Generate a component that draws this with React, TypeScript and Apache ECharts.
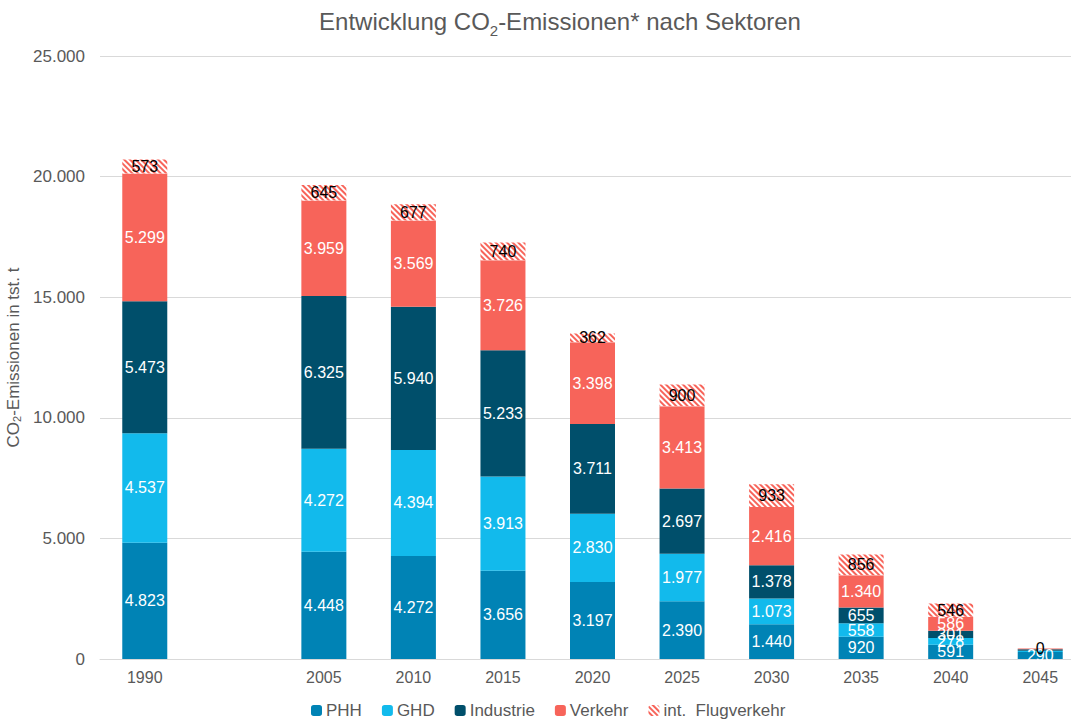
import React, { useEffect, useRef } from "react";
import * as echarts from "echarts";

const categories = ["1990", "", "2005", "2010", "2015", "2020", "2025", "2030", "2035", "2040", "2045"];
const phh = [4823, null, 4448, 4272, 3656, 3197, 2390, 1440, 920, 591, 290];
const ghd = [4537, null, 4272, 4394, 3913, 2830, 1977, 1073, 558, 278, 50];
const industrie = [5473, null, 6325, 5940, 5233, 3711, 2697, 1378, 655, 301, 60];
const verkehr = [5299, null, 3959, 3569, 3726, 3398, 3413, 2416, 1340, 586, 40];
const flug = [573, null, 645, 677, 740, 362, 900, 933, 856, 546, 0];
const yTicks = [0, 5000, 10000, 15000, 20000, 25000];

const FONT = "Liberation Sans, Arial, sans-serif";
const GREY = "#595959";

const fmt = (v: number) => String(v).replace(/\B(?=(\d{3})+(?!\d))/g, ".");

function makeData(arr: (number | null)[], hideLast: boolean) {
  return arr.map((v, i) =>
    hideLast && i === arr.length - 1 ? { value: v, label: { show: false } } : v
  );
}

export default function App() {
  const ref = useRef<HTMLDivElement>(null);
  useEffect(() => {
    if (!ref.current) return;
    const chart = echarts.init(ref.current, null, { renderer: "svg" });
    const labelWhite = {
      show: true,
      position: "inside",
      color: "#ffffff",
      fontSize: 16,
      fontFamily: FONT,
      formatter: (p: any) => (p.value == null ? "" : fmt(p.value)),
    };
    const base = { type: "bar", stack: "total", barWidth: 45 };
    chart.setOption({
      animation: false,
      textStyle: { fontFamily: FONT },
      title: {
        text: "{a|Entwicklung CO}{s|2}{a|-Emissionen* nach Sektoren}",
        left: 555,
        textAlign: "center",
        top: 0,
        textStyle: {
          rich: {
            a: { fontSize: 24, color: GREY, fontFamily: FONT, fontWeight: "normal", lineHeight: 28, verticalAlign: "bottom" },
            s: { fontSize: 15, color: GREY, fontFamily: FONT, fontWeight: "normal", lineHeight: 22, verticalAlign: "bottom", padding: [0, 0, -5, 0] },
          },
        },
      },
      legend: {
        top: 697,
        left: 306,
        itemWidth: 11,
        itemHeight: 11,
        itemGap: 20,
        textStyle: { color: GREY, fontSize: 17, fontFamily: FONT, padding: [0, 0, 0, -1] },
        data: ["PHH", "GHD", "Industrie", "Verkehr", "int.  Flugverkehr"],
      },
      grid: { left: 100, top: 56, height: 603, width: 985, outerBoundsMode: "none", containLabel: false },
      xAxis: {
        type: "category",
        data: categories,
        axisTick: { show: false },
        axisLine: { lineStyle: { color: "#d9d9d9" } },
        axisLabel: { color: GREY, fontSize: 16, margin: 10 },
      },
      yAxis: {
        type: "value",
        min: 0,
        max: yTicks[yTicks.length - 1],
        interval: 5000,
        name: "{a|CO}{s|2}{a|-Emissionen in tst. t}",
        nameLocation: "middle",
        nameGap: 71,
        nameRotate: 90,
        nameTextStyle: {
          rich: {
            a: { fontSize: 17, color: GREY, fontFamily: FONT, lineHeight: 22 },
            s: { fontSize: 11, color: GREY, fontFamily: FONT, lineHeight: 22, padding: [0, 0, -7, 0] },
          },
        },
        axisLabel: { color: GREY, fontSize: 17, margin: 15, formatter: (v: number) => fmt(v) },
        splitLine: { lineStyle: { color: "#d9d9d9" } },
      },
      series: [
        { ...base, name: "PHH", data: makeData(phh, false), itemStyle: { color: "#0083B5" }, label: labelWhite },
        { ...base, name: "GHD", data: makeData(ghd, true), itemStyle: { color: "#12BAEC" }, label: labelWhite },
        { ...base, name: "Industrie", data: makeData(industrie, true), itemStyle: { color: "#004F6B" }, label: labelWhite },
        { ...base, name: "Verkehr", data: makeData(verkehr, true), itemStyle: { color: "#F7645A" }, label: labelWhite },
        {
          ...base,
          name: "int.  Flugverkehr",
          data: makeData(flug, false),
          itemStyle: {
            color: "#ffffff",
            decal: {
              symbol: "rect",
              symbolSize: 1,
              dashArrayX: [[1, 0]],
              dashArrayY: [2, 2],
              rotation: Math.PI / 4,
              color: "#F7645A",
            },
          },
          label: { ...labelWhite, color: "#000000" },
        },
      ],
    });
    return () => chart.dispose();
  }, []);
  return (
    <div style={{ position: "fixed", left: 0, top: 0, width: 1071, height: 719, overflow: "hidden", background: "#fff" }}>
      <div ref={ref} style={{ width: 1100, height: 719 }} />
    </div>
  );
}
